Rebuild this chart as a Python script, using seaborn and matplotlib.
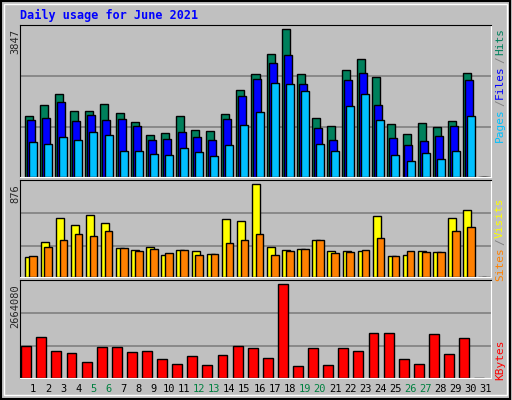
import matplotlib
matplotlib.use("Agg")
import matplotlib.pyplot as plt
import seaborn as sns

sns.set_style("white")
plt.rcParams["font.family"] = ["DejaVu Sans Mono"]

days = list(range(1, 32))
weekend_days = [5, 6, 12, 13, 19, 20, 26, 27]

hits = [1575, 1862, 2150, 1706, 1706, 1889, 1654, 1419, 1079, 1131, 1575, 1210, 1184, 1628, 2254,
        2672, 3194, 3847, 2672, 1523, 1314, 2777, 3064, 2594, 1367, 1105, 1393, 1288, 1445, 2698, 0]
files = [1471, 1523, 1941, 1445, 1602, 1471, 1497, 1314, 949, 975, 1158, 1027, 949, 1497, 2098,
         2542, 2959, 3168, 2411, 1262, 949, 2515, 2698, 1862, 1001, 844, 923, 1053, 1314, 2515, 0]
pages = [897, 870, 1027, 949, 1158, 1079, 688, 688, 609, 583, 766, 661, 557, 844, 1340,
         1680, 2437, 2411, 2228, 870, 688, 1836, 2150, 1471, 583, 426, 635, 479, 688, 1575, 0]
visits = [193, 335, 553, 487, 582, 506, 278, 259, 288, 212, 259, 250, 221, 544, 525,
          876, 288, 259, 269, 354, 250, 250, 250, 572, 202, 212, 250, 240, 553, 629, 0]
sites = [202, 288, 354, 402, 392, 430, 278, 250, 269, 231, 259, 212, 221, 326, 354,
         402, 212, 250, 269, 345, 231, 240, 259, 364, 202, 250, 240, 240, 430, 477, 0]
kbytes = [914000, 1176000, 768000, 710000, 447000, 885000, 885000, 739000, 768000, 535000,
          389000, 622000, 360000, 651000, 914000, 856000, 564000, 2664080, 331000, 856000,
          360000, 856000, 768000, 1293000, 1293000, 535000, 389000, 1264000, 681000, 1147000, 0]

BG = "#c0c0c0"
W, H = 512, 400
fig = plt.figure(figsize=(5.12, 4.0), dpi=100, facecolor=BG)


def px_axes(x0, y0, x1, y1):
    return fig.add_axes([x0 / W, 1 - y1 / H, (x1 - x0) / W, (y1 - y0) / H])


def style_axes(ax, top, grid_fracs):
    ax.set_facecolor(BG)
    ax.set_xlim(0.14, 31.33)
    ax.set_ylim(0, top)
    for f in grid_fracs:
        ax.axhline(f * top, color="#808080", lw=1.2, zorder=0)
    ax.set_xticks([])
    ax.set_yticks([])
    for s in ["top", "left"]:
        ax.spines[s].set_color("black")
    for s in ["bottom", "right"]:
        ax.spines[s].set_color("white")


def bars(ax, vals, offset, width, color):
    xs = [d + offset for d in days]
    ax.bar(xs, vals, width=width, align="edge", color=color, edgecolor="black", lw=1)


# top panel: hits / files / pages
ax1 = px_axes(20, 25, 491, 177)
style_axes(ax1, 3847 * 152 / 148, [0.33, 0.664])
bars(ax1, hits, -0.53, 0.53, "#00805c")
bars(ax1, files, -0.40, 0.53, "#0000ff")
bars(ax1, pages, -0.26, 0.53, "#00c0ff")

# middle panel: visits / sites
ax2 = px_axes(20, 180, 491, 277)
style_axes(ax2, 876 * 97 / 92.7, [0.316, 0.657])
bars(ax2, visits, -0.5, 0.53, "#ffff00")
bars(ax2, sites, -0.24, 0.5, "#ff8000")

# bottom panel: kbytes
ax3 = px_axes(20, 280, 491, 378)
style_axes(ax3, 2664080 * 98 / 93.7, [0.323, 0.66])
sns.barplot(x=[d - 0.45 for d in days], y=kbytes, native_scale=True, width=0.66,
            color="#ff0000", saturation=1, edgecolor="black", lw=1, ax=ax3)
ax3.set_xlim(0.14, 31.33)
ax3.set_xticks([])

# titles and labels
fig.text(20 / W, 1 - 15 / H, "Daily usage for June 2021", color="#0000ff",
         fontsize=8.5, fontweight="bold", va="center")
for txt, y in [("3847", 29), ("876", 184), ("2664080", 284)]:
    fig.text(10 / W, 1 - y / H, txt, rotation=90, fontsize=7.5, va="top", ha="left")


def right_label(parts, y_top):
    y = y_top
    for txt, col in parts:
        fig.text(495 / W, 1 - y / H, txt, rotation=90, color=col, fontsize=8,
                 va="top", ha="left")
        y += len(txt) * 6.2 + 3


right_label([("Hits", "#00805c"), ("/", "#808080"), ("Files", "#0000ff"),
             ("/", "#808080"), ("Pages", "#00c0ff")], 28)
right_label([("Visits", "#ffff00"), ("/", "#808080"), ("Sites", "#ff8000")], 198)
right_label([("KBytes", "#ff0000")], 340)

for d in days:
    col = "#008040" if d in weekend_days else "black"
    fig.text((33 + (d - 1) * 15.1) / W, 1 - 389 / H, str(d), color=col,
             fontsize=7.5, ha="center", va="center")

# frame
fig.add_artist(plt.Rectangle((0.002, 0.003), 0.995, 0.994, transform=fig.transFigure,
                             fill=False, edgecolor="black", lw=1.5))
fig.add_artist(plt.Rectangle((0.008, 0.012), 0.983, 0.978, transform=fig.transFigure,
                             fill=False, edgecolor="white", lw=1))

fig.savefig("out.png", dpi=100, facecolor=BG)
